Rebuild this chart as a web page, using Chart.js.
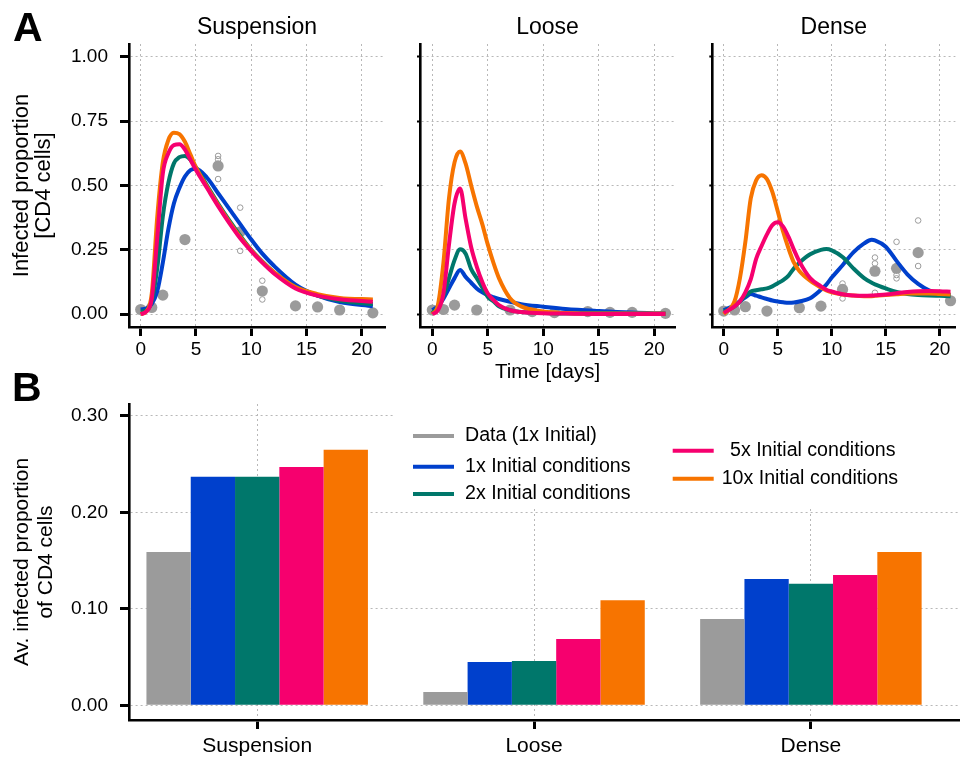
<!DOCTYPE html>
<html><head><meta charset="utf-8">
<script src="https://cdn.jsdelivr.net/npm/chart.js@4.4.0/dist/chart.umd.min.js"></script>
<style>
html,body{margin:0;padding:0;background:#fff;overflow:hidden;}
#wrap{position:relative;width:961px;height:758px;font-family:"Liberation Sans",Arial,Helvetica,sans-serif;}
canvas{position:absolute;}
.lab{position:absolute;font-weight:bold;font-size:41px;line-height:1;color:#000;}
</style></head><body>
<div id="wrap">
<canvas id="c4" style="left:0;top:380px" width="961" height="378"></canvas>
<canvas id="c1" style="left:0;top:0" width="400" height="390"></canvas>
<canvas id="c2" style="left:395px;top:0" width="290" height="390"></canvas>
<canvas id="c3" style="left:690px;top:0" width="271" height="390"></canvas>
<div class="lab" style="left:13px;top:7px">A</div>
<div class="lab" style="left:12px;top:367px">B</div>
</div>
<script>
// ---------- Panel A data ----------
const obsDays = [0, 1, 2, 4, 7, 9, 11, 14, 16, 18, 21];
const xTicksA = [0, 5, 10, 15, 20];
const xTickLabelsA = ['0', '5', '10', '15', '20'];
const yTicksA = [0, 0.25, 0.5, 0.75, 1];
const yTickLabelsA = ['0.00', '0.25', '0.50', '0.75', '1.00'];
const panelTitles = ['Suspension', 'Loose', 'Dense'];

// Suspension
const suspDays   = [0, 0.5, 1, 1.5, 2, 2.5, 3, 3.5, 4, 4.5, 5, 6, 7, 8, 9, 10, 11, 12, 14, 16, 18, 21];
const suspBlue   = [0.018, 0.022, 0.04, 0.09, 0.2, 0.33, 0.43, 0.49, 0.535, 0.56, 0.565, 0.53, 0.47, 0.41, 0.35, 0.29, 0.235, 0.19, 0.115, 0.072, 0.047, 0.031];
const suspTeal   = [0.01, 0.015, 0.05, 0.18, 0.38, 0.51, 0.586, 0.61, 0.615, 0.6, 0.57, 0.5, 0.43, 0.365, 0.305, 0.25, 0.205, 0.165, 0.105, 0.072, 0.052, 0.039];
const suspPink   = [0.0, 0.01, 0.06, 0.3, 0.547, 0.625, 0.657, 0.66, 0.64, 0.6, 0.56, 0.49, 0.42, 0.355, 0.295, 0.245, 0.2, 0.16, 0.1, 0.072, 0.058, 0.048];
const suspOrange = [0.0, 0.01, 0.08, 0.38, 0.59, 0.677, 0.705, 0.7, 0.67, 0.62, 0.57, 0.495, 0.425, 0.36, 0.3, 0.248, 0.203, 0.165, 0.105, 0.078, 0.063, 0.057];
const suspMean   = [0.018, 0.026, 0.074, 0.29, 0.576, 0.32, 0.09, 0.032, 0.028, 0.016, 0.005];
const suspRepDays = [7, 7, 7, 9, 9, 11, 11];
const suspRepVals = [0.615, 0.602, 0.525, 0.414, 0.246, 0.13, 0.057];

// Loose
const looseDays   = [0, 0.5, 1, 1.5, 2, 2.5, 3, 3.5, 4, 4.5, 5, 5.5, 6, 7, 8, 10, 12, 15, 18, 21];
const looseBlue   = [0.016, 0.03, 0.06, 0.1, 0.14, 0.172, 0.145, 0.122, 0.1, 0.085, 0.074, 0.066, 0.059, 0.048, 0.039, 0.029, 0.02, 0.012, 0.006, 0.003];
const looseTeal   = [0.005, 0.025, 0.07, 0.14, 0.21, 0.252, 0.235, 0.175, 0.14, 0.104, 0.067, 0.05, 0.03, 0.015, 0.008, 0.004, 0.002, 0.002, 0.001, 0.001];
const loosePink   = [0.0, 0.015, 0.08, 0.27, 0.43, 0.488, 0.37, 0.26, 0.185, 0.125, 0.08, 0.055, 0.035, 0.015, 0.008, 0.003, 0.002, 0.001, 0.001, 0.001];
const looseOrange = [0.0, 0.035, 0.2, 0.45, 0.59, 0.632, 0.585, 0.5, 0.42, 0.35, 0.27, 0.2, 0.14, 0.062, 0.03, 0.01, 0.004, 0.002, 0.002, 0.002];
const looseMean   = [0.016, 0.018, 0.035, 0.016, 0.016, 0.01, 0.006, 0.01, 0.007, 0.007, 0.003];
const looseRepDays = [];
const looseRepVals = [];

// Dense
const denseDays   = [0, 1, 1.5, 2, 2.5, 3, 3.5, 4, 4.5, 5, 5.5, 6, 6.5, 7, 8, 9, 9.5, 10, 11, 12, 13, 13.7, 14, 15, 16, 17, 18, 19, 20, 21];
const denseBlue   = [0.015, 0.035, 0.05, 0.065, 0.078, 0.072, 0.065, 0.059, 0.053, 0.049, 0.046, 0.044, 0.045, 0.049, 0.062, 0.095, 0.115, 0.142, 0.19, 0.24, 0.275, 0.289, 0.287, 0.262, 0.207, 0.155, 0.118, 0.093, 0.079, 0.074];
const denseTeal   = [0.01, 0.03, 0.05, 0.07, 0.088, 0.093, 0.097, 0.1, 0.108, 0.12, 0.132, 0.15, 0.178, 0.2, 0.233, 0.25, 0.253, 0.248, 0.222, 0.178, 0.14, 0.122, 0.116, 0.1, 0.086, 0.078, 0.074, 0.072, 0.071, 0.07];
const densePink   = [0.005, 0.03, 0.05, 0.085, 0.135, 0.215, 0.265, 0.31, 0.346, 0.357, 0.34, 0.3, 0.25, 0.205, 0.14, 0.108, 0.095, 0.088, 0.077, 0.072, 0.071, 0.072, 0.073, 0.076, 0.081, 0.086, 0.089, 0.09, 0.089, 0.087];
const denseOrange = [0.0, 0.05, 0.14, 0.28, 0.45, 0.52, 0.54, 0.525, 0.475, 0.4, 0.32, 0.255, 0.2, 0.168, 0.13, 0.103, 0.092, 0.085, 0.076, 0.072, 0.07, 0.07, 0.071, 0.074, 0.077, 0.08, 0.08, 0.08, 0.078, 0.076];
const denseMean   = [0.012, 0.016, 0.029, 0.012, 0.025, 0.031, 0.096, 0.167, 0.178, 0.239, 0.052];
const denseRepDays = [11, 11, 14, 14, 14, 16, 16, 16, 18, 18];
const denseRepVals = [0.119, 0.061, 0.22, 0.197, 0.083, 0.281, 0.152, 0.139, 0.364, 0.187];

// ---------- Panel B data ----------
const categories = ['Suspension', 'Loose', 'Dense'];
const yTicksB = [0, 0.1, 0.2, 0.3];
const yTickLabelsB = ['0.00', '0.10', '0.20', '0.30'];
const seriesLabels = ['Data (1x Initial)', '1x Initial conditions', '2x Initial conditions', '5x Initial conditions', '10x Initial conditions'];
const barData  = [0.159, 0.0138, 0.0895];
const bar1x    = [0.237, 0.045, 0.131];
const bar2x    = [0.237, 0.046, 0.126];
const bar5x    = [0.247, 0.0688, 0.135];
const bar10x   = [0.265, 0.109, 0.159];

// ---------- Styling ----------
const FONT = '"Liberation Sans", Arial, Helvetica, sans-serif';
const GREY = '#9b9b9b', BLUE = '#0040cc', TEAL = '#00776b', PINK = '#f6006e', ORANGE = '#f77400';
const GRID = '#b8b8b8';
Chart.defaults.font.family = FONT;
Chart.defaults.color = '#000';

function pts(xs, ys) { return xs.map((x, i) => ({ x: x, y: ys[i] })); }
function curve(xs, ys, color, order) {
  return { data: pts(xs, ys), borderColor: color, backgroundColor: color, borderWidth: 4,
    pointRadius: 0, fill: false, cubicInterpolationMode: 'monotone', order: order };
}

function panel(id, title, days, blue, teal, pink, orange, mean, repD, repV, cfg) {
  return new Chart(document.getElementById(id), {
    type: 'line',
    data: {
      datasets: [
        curve(days, pink, PINK, 0),
        curve(days, orange, ORANGE, 1),
        curve(days, teal, TEAL, 2),
        curve(days, blue, BLUE, 3),
        { data: pts(obsDays, mean), showLine: false, pointRadius: 5.6, pointBackgroundColor: GREY,
          pointBorderWidth: 0, borderWidth: 0, order: 4, clip: false },
        { data: pts(repD, repV), showLine: false, pointRadius: 2.8, pointBackgroundColor: 'rgba(0,0,0,0)',
          pointBorderColor: GREY, pointBorderWidth: 1, order: 5, clip: false }
      ]
    },
    options: {
      responsive: false, animation: false, events: [],
      layout: { padding: { left: 0, right: cfg.padRight, top: 0, bottom: 0 } },
      plugins: {
        legend: { display: false }, tooltip: { enabled: false },
        title: { display: true, text: title, fullSize: false, color: '#000',
          font: { size: 23, family: FONT, weight: 'normal' }, padding: { top: 13.7, bottom: 2.7 } }
      },
      scales: {
        x: {
          type: 'linear', min: cfg.xmin, max: cfg.xmax,
          afterBuildTicks: s => { s.ticks = xTicksA.map(v => ({ value: v })); },
          afterFit: s => { s.height = 63; },
          ticks: { callback: (v, i) => xTickLabelsA[i], font: { size: 19 }, color: '#000', padding: 2.6,
            maxRotation: 0, autoSkip: false },
          grid: { color: GRID, lineWidth: 1, tickColor: '#000', tickWidth: 3, tickLength: 9 },
          border: { color: '#000', width: 2.6, dash: [2, 3] },
          title: { display: cfg.xTitle, text: 'Time [days]', color: '#000', font: { size: 20.5 },
            padding: { top: 0, bottom: 5.7 } }
        },
        y: {
          type: 'linear', min: -0.05, max: 1.05,
          afterBuildTicks: s => { s.ticks = yTicksA.map(v => ({ value: v })); },
          afterFit: s => { s.width = cfg.yWidth; },
          ticks: { display: cfg.yLabels, callback: (v, i) => yTickLabelsA[i], font: { size: 19 }, color: '#000', padding: 12 },
          grid: { color: GRID, lineWidth: 1, tickColor: '#000', tickWidth: cfg.yLabels ? 3 : 2, tickLength: cfg.yLabels ? 9 : 3 },
          border: { color: '#000', width: 2.6, dash: [2, 3] },
          title: { display: cfg.yLabels, text: ['Infected proportion', '[CD4 cells]'], color: '#000',
            font: { size: 22, lineHeight: 1.0 }, padding: { top: 11, bottom: 0 } }
        }
      }
    }
  });
}

panel('c1', panelTitles[0], suspDays, suspBlue, suspTeal, suspPink, suspOrange, suspMean, suspRepDays, suspRepVals,
  { xmin: -1.06, xmax: 22.1, padRight: 15, yWidth: 129, yLabels: true, xTitle: false });
panel('c2', panelTitles[1], looseDays, looseBlue, looseTeal, loosePink, looseOrange, looseMean, looseRepDays, looseRepVals,
  { xmin: -1.11, xmax: 21.86, padRight: 10, yWidth: 25, yLabels: false, xTitle: true });
panel('c3', panelTitles[2], denseDays, denseBlue, denseTeal, densePink, denseOrange, denseMean, denseRepDays, denseRepVals,
  { xmin: -1.06, xmax: 21.45, padRight: 0, yWidth: 22.3, yLabels: false, xTitle: false });

// ---------- Panel B ----------
const barColors = [GREY, BLUE, TEAL, PINK, ORANGE];
const barSeries = [barData, bar1x, bar2x, bar5x, bar10x];
// legend placement relative to chart area (left, top): line start x, row y, text x offset
const legendSpots = [
  { x: 284, y: 32, t: 52 }, { x: 284, y: 62.7, t: 52 }, { x: 284, y: 90, t: 52 },
  { x: 543.7, y: 46.7, t: 57.3 }, { x: 543.7, y: 74.7, t: 49 }
];
const boxLegend = {
  id: 'boxLegend',
  afterDraw(chart) {
    const { ctx, chartArea: a } = chart;
    ctx.save();
    ctx.fillStyle = '#fff';
    ctx.fillRect(a.left + 264, a.top - 1, a.right - a.left - 264, 106);
    ctx.font = '19.6px ' + FONT;
    ctx.textBaseline = 'middle';
    ctx.textAlign = 'left';
    chart.data.datasets.forEach((ds, i) => {
      const s = legendSpots[i];
      ctx.strokeStyle = ds.backgroundColor;
      ctx.lineWidth = 4;
      ctx.beginPath();
      ctx.moveTo(a.left + s.x, a.top + s.y);
      ctx.lineTo(a.left + s.x + 41, a.top + s.y);
      ctx.stroke();
      ctx.fillStyle = '#000';
      ctx.fillText(ds.label, a.left + s.x + s.t, a.top + s.y);
    });
    ctx.restore();
  }
};

new Chart(document.getElementById('c4'), {
  type: 'bar',
  data: {
    datasets: barSeries.map((vals, k) => ({
      label: seriesLabels[k],
      data: vals.map((v, i) => ({ x: i + 1, y: v })),
      backgroundColor: barColors[k], borderWidth: 0,
      categoryPercentage: 0.8, barPercentage: 1.0
    }))
  },
  options: {
    responsive: false, animation: false, events: [],
    layout: { padding: { left: 0, right: 2, top: 24, bottom: 0 } },
    plugins: { legend: { display: false }, tooltip: { enabled: false } },
    scales: {
      x: {
        type: 'linear', min: 0.537, max: 3.535, offset: false,
        afterBuildTicks: s => { s.ticks = categories.map((c, i) => ({ value: i + 1 })); },
        afterFit: s => { s.height = 38; },
        ticks: { callback: (v, i) => categories[i], font: { size: 21 }, color: '#000', padding: 5, maxRotation: 0, autoSkip: false },
        grid: { offset: false, color: GRID, lineWidth: 1, tickColor: '#000', tickWidth: 3, tickLength: 9 },
        border: { color: '#000', width: 2.6, dash: [2, 3] }
      },
      y: {
        type: 'linear', min: -0.0152, max: 0.3124,
        afterBuildTicks: s => { s.ticks = yTicksB.map(v => ({ value: v })); },
        afterFit: s => { s.width = 129; },
        ticks: { callback: (v, i) => yTickLabelsB[i], font: { size: 19 }, color: '#000', padding: 12 },
        grid: { color: GRID, lineWidth: 1, tickColor: '#000', tickWidth: 3, tickLength: 9 },
        border: { color: '#000', width: 2.6, dash: [2, 3] },
        title: { display: true, text: ['Av. infected proportion', 'of CD4 cells'], color: '#000',
          font: { size: 21, lineHeight: 1.15 }, padding: { top: 10.4, bottom: 0 } }
      }
    }
  },
  plugins: [boxLegend]
});
</script>
</body></html>
